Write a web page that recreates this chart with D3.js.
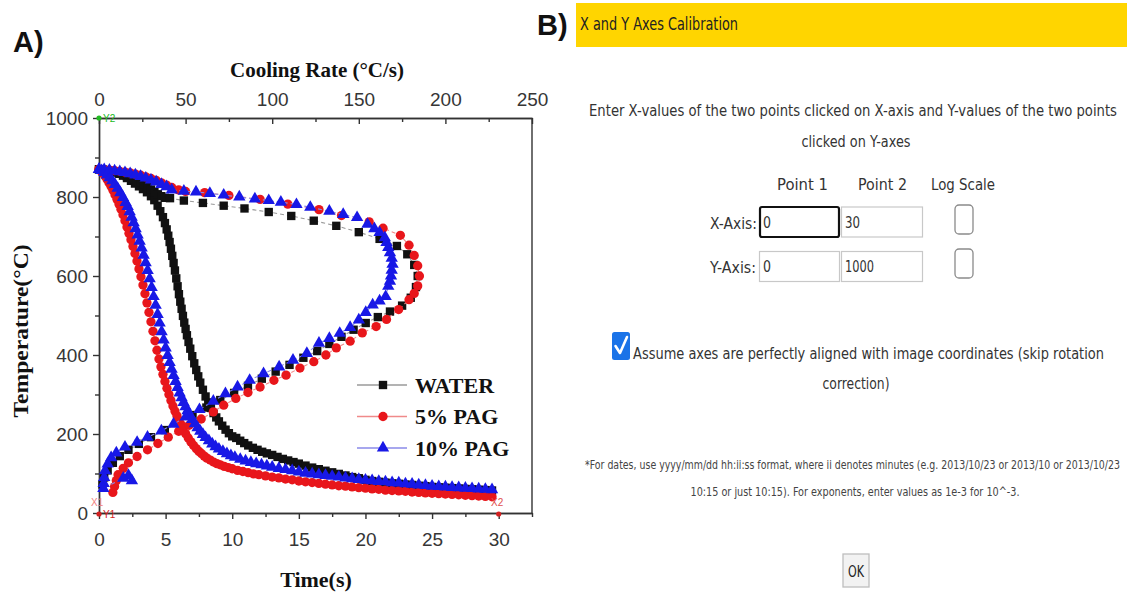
<!DOCTYPE html>
<html>
<head>
<meta charset="utf-8">
<script src="https://cdn.jsdelivr.net/npm/d3@7"></script>
<style>
html,body{margin:0;padding:0;background:#fff;}
svg{display:block;}
</style>
</head>
<body>
<svg id="chart" width="1127" height="596"></svg>
<script>
// ---------------- DATA ----------------
const seriesNames = ["WATER", "5% PAG", "10% PAG"];
const timeTicks = [0, 5, 10, 15, 20, 25, 30];
const rateTicks = [0, 50, 100, 150, 200, 250];
const tempTicks = [0, 200, 400, 600, 800, 1000];

// Cooling curves: temperature (°C) vs time (s)
const waterTime = [0,0.3,0.6,0.9,1.2,1.5,1.8,2.1,2.4,2.7,3.0,3.3,3.6,3.9,4.15,4.4,4.6,4.8,4.95,5.08,5.2,5.3,5.4,5.5,5.6,5.7,5.8,5.9,6.0,6.1,6.2,6.3,6.4,6.5,6.6,6.72,6.85,7.0,7.15,7.3,7.45,7.6,7.8,8.0,8.2,8.4,8.6,8.8,9.0,9.25,9.5,9.75,10.0,10.3,10.6,10.9,11.2,11.55,11.9,12.25,12.6,13.0,13.4,13.8,14.2,14.6,15.0,15.5,16.0,16.5,17.0,17.5,18.0,18.5,19.0,19.5,20.0,20.5,21.0,21.5,22.0,22.5,23.0,23.5,24.0,24.5,25.0,25.5,26.0,26.5,27.0,27.5,28.0,28.5,29.0,29.5];
const waterTemp = [870,869,868,866,863,859,854,848,841,834,827,820,812,802,792,778,764,749,734,718,702,686,669,651,633,614,594,574,554,535,517,499,482,466,450,433,416,397,379,362,346,330,312,295,280,266,253,242,232,221,211,202,194,190,183,177,171,165,160,155,151,147,142,137,133,129,125,120,115,111,107,103,99,95,91,88,84,81,79,77,75,74,72,71,69,68,66,65,64,63,62,61,60,59,58,57];

const pag5Time = [0,0.15,0.3,0.45,0.6,0.75,0.9,1.05,1.2,1.35,1.5,1.65,1.8,1.95,2.1,2.25,2.4,2.55,2.7,2.85,3.0,3.15,3.3,3.45,3.6,3.75,3.9,4.05,4.2,4.35,4.5,4.65,4.8,4.95,5.1,5.25,5.4,5.55,5.7,5.85,6.0,6.15,6.3,6.5,6.7,6.9,7.1,7.3,7.5,7.7,7.9,8.1,8.35,8.6,8.85,9.1,9.4,9.7,10.0,10.4,10.8,11.2,11.6,12.0,12.5,13.0,13.5,14.0,14.5,15.0,15.5,16.0,16.5,17.0,17.5,18.0,18.5,19.0,19.5,20.0,20.5,21.0,21.5,22.0,22.5,23.0,23.5,24.0,24.5,25.0,25.5,26.0,26.5,27.0,27.5,28.0,28.5,29.0,29.5];
const pag5Temp = [870,866,860,853,845,836,827,817,806,794,782,769,755,740,724,708,692,675,657,638,618,598,577,555,532,508,484,460,436,412,390,370,351,333,316,300,285,271,258,246,235,224,213,201,190,180,171,163,156,150,144,139,134,129,125,122,118,115,112,108,105,102,99,97,94,91,89,86,84,81,79,77,75,73,71,69,68,66,64,63,61,60,58,57,56,55,53,52,51,50,49,48,47,46,45,44,43,42,41];

const pag10Time = [0,0.2,0.4,0.6,0.8,1.0,1.2,1.4,1.6,1.8,2.0,2.15,2.3,2.45,2.6,2.75,2.9,3.05,3.2,3.35,3.5,3.65,3.8,3.95,4.1,4.25,4.4,4.55,4.7,4.85,5.0,5.15,5.3,5.45,5.6,5.75,5.9,6.05,6.2,6.35,6.5,6.65,6.8,7.0,7.2,7.4,7.6,7.8,8.0,8.25,8.5,8.75,9.0,9.3,9.6,9.9,10.2,10.6,11.0,11.4,11.8,12.2,12.6,13.0,13.5,14.0,14.5,15.0,15.5,16.0,16.5,17.0,17.5,18.0,18.5,19.0,19.5,20.0,20.5,21.0,21.5,22.0,22.5,23.0,23.5,24.0,24.5,25.0,25.5,26.0,26.5,27.0,27.5,28.0,28.5,29.0,29.5];
const pag10Temp = [870,867,862,856,849,841,832,822,811,799,786,776,763,749,735,720,704,688,671,653,634,614,593,571,548,526,503,481,459,438,418,399,381,364,348,333,318,304,292,280,269,259,249,237,226,216,207,199,191,183,175,168,162,156,150,145,141,136,132,128,125,122,119,116,113,110,107,104,101,99,97,95,93,91,89,87,85,83,82,80,79,77,76,74,73,71,70,68,67,66,65,64,63,62,61,60,59];

// Cooling-rate curves: temperature (°C) vs cooling rate (°C/s)
const waterRate = [0,2,4,6,8,10,12,14,16,18,20,22,24,26,28,30,32,34,36,38,41,49,60,72,84,98,111,124,137,150,162,172,178,182,184,183,180,175,168,161,154,147,140,133,126,118,110,102,94,86,78,70,62,54,46,38,30,23,17,12,8,5,3,2];
const waterRateTemp = [870,869,868,866,864,862,859,856,853,849,845,841,836,831,825,819,813,807,802,798,797,791,785,778,771,762,752,740,727,711,694,676,655,628,600,572,545,525,510,496,481,464,446,428,410,393,375,358,340,322,304,286,267,248,229,210,192,175,160,144,127,108,90,72];

const pag5Rate = [0,3,6,9,12,15,18,21,24,27,30,33,36,39,42,46,50,61,75,93,109,127,140,156,164,174,179,182,184,185,184,182,179,173,166,160,152,145,137,131,124,116,108,101,93,86,79,72,66,59,52,46,40,34,28,22,17,14,11,10,9,8];
const pag5RateTemp = [870,869,868,867,865,863,861,858,855,851,847,842,836,830,824,818,814,811,804,794,782,768,753,737,721,703,678,652,626,600,575,556,540,515,490,472,456,435,418,400,383,367,349,336,319,305,290,273,256,238,222,207,192,176,160,143,127,113,97,82,67,52];

const pag10Rate = [0,3,6,9,12,15,18,21,24,27,30,33,36,39,42,49,56,64,72,81,90,98,105,114,122,133,141,149,155,159,162,165,166,167,168,169,169.5,169,168.6,168,167,165.5,162,158,154,150,145,139,133,127,120,112,104,95,87,80,73,66,58,50,43,36,28,22,15,10,7,5,3.5,3,2.7,2.5,17,19,14];
const pag10RateTemp = [870,869,868,866,864,862,859,856,852,848,843,838,832,826,818,815,813,809,805,800,795,791,787,781,774,764,756,748,731,720,710,697,685,672,659,645,630,615,600,587,574,548,537,527,508,489,470,455,442,430,404,387,370,353,336,319,302,283,262,243,225,208,192,179,167,152,140,124,107,90,75,62,95,82,88];

// ---------------- DRAW ----------------
const svg = d3.select("#chart");
svg.append("rect").attr("width", 1127).attr("height", 596).attr("fill", "#fff");

const xT = d3.scaleLinear().domain([0, 32.5]).range([99, 532]);
const xR = d3.scaleLinear().domain([0, 250]).range([99, 532]);
const y = d3.scaleLinear().domain([0, 1000]).range([513, 118]);

const axisColor = "#333";
const tickFont = "'Liberation Sans', Arial, sans-serif";
const serif = "'Liberation Serif', 'Times New Roman', serif";
const fmt = d3.format("d");

function styleAxis(g) {
  g.selectAll("path.domain").attr("stroke", axisColor).attr("stroke-width", 1.4);
  g.selectAll(".tick line").attr("stroke", axisColor).attr("stroke-width", 1.4);
  g.selectAll(".tick text").attr("fill", "#363636").attr("font-size", 19).attr("font-family", tickFont);
}

// minor ticks
svg.append("g").attr("transform", "translate(99,0)")
  .call(d3.axisLeft(y).tickValues([100,300,500,700,900]).tickSize(4).tickSizeOuter(0).tickFormat(""))
  .call(styleAxis);
svg.append("g").attr("transform", "translate(0,513)")
  .call(d3.axisBottom(xT).tickValues([2.5,7.5,12.5,17.5,22.5,27.5,32.5]).tickSize(4).tickSizeOuter(0).tickFormat(""))
  .call(styleAxis);
svg.append("g").attr("transform", "translate(0,118)")
  .call(d3.axisTop(xR).tickValues([25,75,125,175,225]).tickSize(-4).tickSizeOuter(0).tickFormat(""))
  .call(styleAxis);

// major axes
svg.append("g").attr("transform", "translate(99,0)")
  .call(d3.axisLeft(y).tickValues(tempTicks).tickFormat(fmt).tickSize(6).tickSizeOuter(0).tickPadding(5))
  .call(styleAxis);
svg.append("g").attr("transform", "translate(0,513)")
  .call(d3.axisBottom(xT).tickValues(timeTicks).tickFormat(fmt).tickSize(6).tickSizeOuter(0).tickPadding(14))
  .call(styleAxis);
svg.append("g").attr("transform", "translate(0,118)")
  .call(d3.axisTop(xR).tickValues(rateTicks).tickFormat(fmt).tickSize(-6).tickSizeOuter(0).tickPadding(12))
  .call(styleAxis);
// right border
svg.append("line").attr("x1", 532).attr("x2", 532).attr("y1", 118).attr("y2", 513)
  .attr("stroke", axisColor).attr("stroke-width", 1.4);

// axis titles
svg.append("text").attr("x", 317).attr("y", 77).attr("text-anchor", "middle")
  .attr("font-family", serif).attr("font-weight", "bold").attr("font-size", 21).attr("fill", "#111")
  .text("Cooling Rate (°C/s)");
svg.append("text").attr("x", 316).attr("y", 587).attr("text-anchor", "middle")
  .attr("font-family", serif).attr("font-weight", "bold").attr("font-size", 22).attr("fill", "#111")
  .text("Time(s)");
svg.append("text").attr("transform", "translate(28,331) rotate(-90)").attr("text-anchor", "middle")
  .attr("font-family", serif).attr("font-weight", "bold").attr("font-size", 22).attr("fill", "#111")
  .attr("textLength", 173).attr("lengthAdjust", "spacingAndGlyphs")
  .text("Temperature(°C)");

// panel labels
svg.append("text").attr("x", 13).attr("y", 52).attr("font-family", tickFont).attr("font-weight", "bold")
  .attr("font-size", 29).attr("fill", "#111").text("A)");
svg.append("text").attr("x", 537).attr("y", 35).attr("font-family", tickFont).attr("font-weight", "bold")
  .attr("font-size", 29).attr("fill", "#111").text("B)");

// series
const series = [
  {name: seriesNames[0], color: "#111", line: "#9a9a9a", sym: d3.symbolSquare, size: 70,
   t: waterTime, tt: waterTemp, r: waterRate, rt: waterRateTemp},
  {name: seriesNames[1], color: "#e8161b", line: "#f08a8a", sym: d3.symbolCircle, size: 68,
   t: pag5Time, tt: pag5Temp, r: pag5Rate, rt: pag5RateTemp},
  {name: seriesNames[2], color: "#1818e6", line: "#8a8ae8", sym: d3.symbolTriangle, size: 66,
   t: pag10Time, tt: pag10Temp, r: pag10Rate, rt: pag10RateTemp}
];

const plot = svg.append("g");
series.forEach(s => {
  const cool = s.t.map((v, i) => [xT(v), y(s.tt[i])]);
  const rate = s.r.map((v, i) => [xR(v), y(s.rt[i])]);
  const g = plot.append("g");
  [cool, rate].forEach(pts => {
    g.append("path").attr("d", d3.line()(pts)).attr("fill", "none")
      .attr("stroke", s.line).attr("stroke-width", 1.1).attr("stroke-dasharray", "4,3");
  });
  const sym = d3.symbol().type(s.sym).size(s.size);
  g.selectAll("path.m").data(cool.concat(rate)).enter().append("path")
    .attr("class", "m").attr("d", sym)
    .attr("transform", d => `translate(${d[0]},${d[1]})`)
    .attr("fill", s.color);
});

// legend
series.forEach((s, i) => {
  const ly = 385 + i * 31.5;
  svg.append("line").attr("x1", 357).attr("x2", 407).attr("y1", ly).attr("y2", ly)
    .attr("stroke", s.line).attr("stroke-width", 1.4);
  svg.append("path").attr("d", d3.symbol().type(s.sym).size(s.size)())
    .attr("transform", `translate(383,${ly})`).attr("fill", s.color);
  svg.append("text").attr("x", 415).attr("y", ly + 7.5)
    .attr("font-family", serif).attr("font-weight", "bold").attr("font-size", 22).attr("fill", "#111")
    .text(s.name);
});

// digitizer calibration markers
const calib = [
  {x: xR(0), y: y(1000), label: "Y2", color: "#22bb22", dx: 4, dy: 4},
  {x: xT(0), y: y(0) + 1, label: "Y1", color: "#d42020", dx: 4, dy: 4},
  {x: xT(30), y: y(0) + 1, label: "", color: "#d42020", dx: 0, dy: 0}
];
calib.forEach(c => {
  svg.append("circle").attr("cx", c.x).attr("cy", c.y).attr("r", 2.6).attr("fill", c.color);
  if (c.label) svg.append("text").attr("x", c.x + c.dx).attr("y", c.y + c.dy)
    .attr("font-family", tickFont).attr("font-size", 10).attr("fill", c.color).text(c.label);
});
svg.append("text").attr("x", 91).attr("y", 506).attr("font-family", tickFont).attr("font-size", 10)
  .attr("fill", "#f08080").text("X1");
svg.append("text").attr("x", 491).attr("y", 506).attr("font-family", tickFont).attr("font-size", 10)
  .attr("fill", "#e05050").text("X2");

// ---------------- PANEL B (calibration dialog) ----------------
const ui = "'DejaVu Sans', Verdana, sans-serif";
const B = svg.append("g");
B.append("rect").attr("x", 576).attr("y", 3).attr("width", 551).attr("height", 44).attr("fill", "#ffd500");
// condensed text: horizontal squeeze via transform, exact width via textLength
function uiText(txt, x, yb, w, size, anchor, color) {
  const sx = 0.72;
  return B.append("text").attr("transform", `translate(${x},${yb}) scale(${sx},1)`)
    .attr("text-anchor", anchor || "start")
    .attr("font-family", ui).attr("font-size", size).attr("fill", color || "#333")
    .attr("textLength", w / sx).attr("lengthAdjust", "spacingAndGlyphs").text(txt);
}
uiText("X and Y Axes Calibration", 580, 30, 158, 17, "start", "#222");
uiText("Enter X-values of the two points clicked on X-axis and Y-values of the two points", 589, 116, 528, 16);
uiText("clicked on Y-axes", 856, 147, 109, 16, "middle");
uiText("Point 1", 777, 190, 51, 16);
uiText("Point 2", 858, 190, 49, 16);
uiText("Log Scale", 931, 190, 64, 16);
uiText("X-Axis:", 710, 229, 47, 16);
uiText("Y-Axis:", 710, 273, 46, 16);

// inputs
B.append("rect").attr("x", 841.5).attr("y", 207).attr("width", 81).attr("height", 30)
  .attr("fill", "#fff").attr("stroke", "#c8c8c8").attr("stroke-width", 1.2);
B.append("rect").attr("x", 841.5).attr("y", 251.5).attr("width", 81).attr("height", 30)
  .attr("fill", "#fff").attr("stroke", "#c8c8c8").attr("stroke-width", 1.2);
B.append("rect").attr("x", 759.5).attr("y", 251.5).attr("width", 80).attr("height", 30)
  .attr("fill", "#fff").attr("stroke", "#c8c8c8").attr("stroke-width", 1.2);
B.append("rect").attr("x", 760).attr("y", 207).attr("width", 79).attr("height", 30).attr("rx", 2)
  .attr("fill", "#fff").attr("stroke", "#111").attr("stroke-width", 2.2);
uiText("0", 763, 228, 8, 15);
uiText("30", 845, 228, 15, 15);
uiText("0", 763, 272, 8, 15);
uiText("1000", 845, 272, 29, 15);
// log scale checkboxes
[205, 249].forEach(cy => {
  B.append("rect").attr("x", 955).attr("y", cy).attr("width", 18).attr("height", 29).attr("rx", 4)
    .attr("fill", "#fff").attr("stroke", "#8a8a8a").attr("stroke-width", 1.3);
});
// checked checkbox
B.append("rect").attr("x", 612).attr("y", 332).attr("width", 18).attr("height", 28).attr("rx", 2.5)
  .attr("fill", "#1a73e8");
B.append("path").attr("d", "M615.5,346 L620,353 L627,337").attr("fill", "none")
  .attr("stroke", "#fff").attr("stroke-width", 2.6).attr("stroke-linecap", "round").attr("stroke-linejoin", "round");
uiText("Assume axes are perfectly aligned with image coordinates (skip rotation", 633, 359, 471, 16);
uiText("correction)", 856, 389, 67, 16, "middle");

// footnote
uiText("*For dates, use yyyy/mm/dd hh:ii:ss format, where ii denotes minutes (e.g. 2013/10/23 or 2013/10 or 2013/10/23", 585, 469, 535, 12, "start", "#444");
uiText("10:15 or just 10:15). For exponents, enter values as 1e-3 for 10^-3.", 855, 496, 329, 12, "middle", "#444");

// OK button
B.append("rect").attr("x", 843).attr("y", 554).attr("width", 26).attr("height", 33)
  .attr("fill", "#f2f2f2").attr("stroke", "#bdbdbd").attr("stroke-width", 1.3);
uiText("OK", 856, 577, 16, 15, "middle", "#222");
</script>
</body>
</html>
